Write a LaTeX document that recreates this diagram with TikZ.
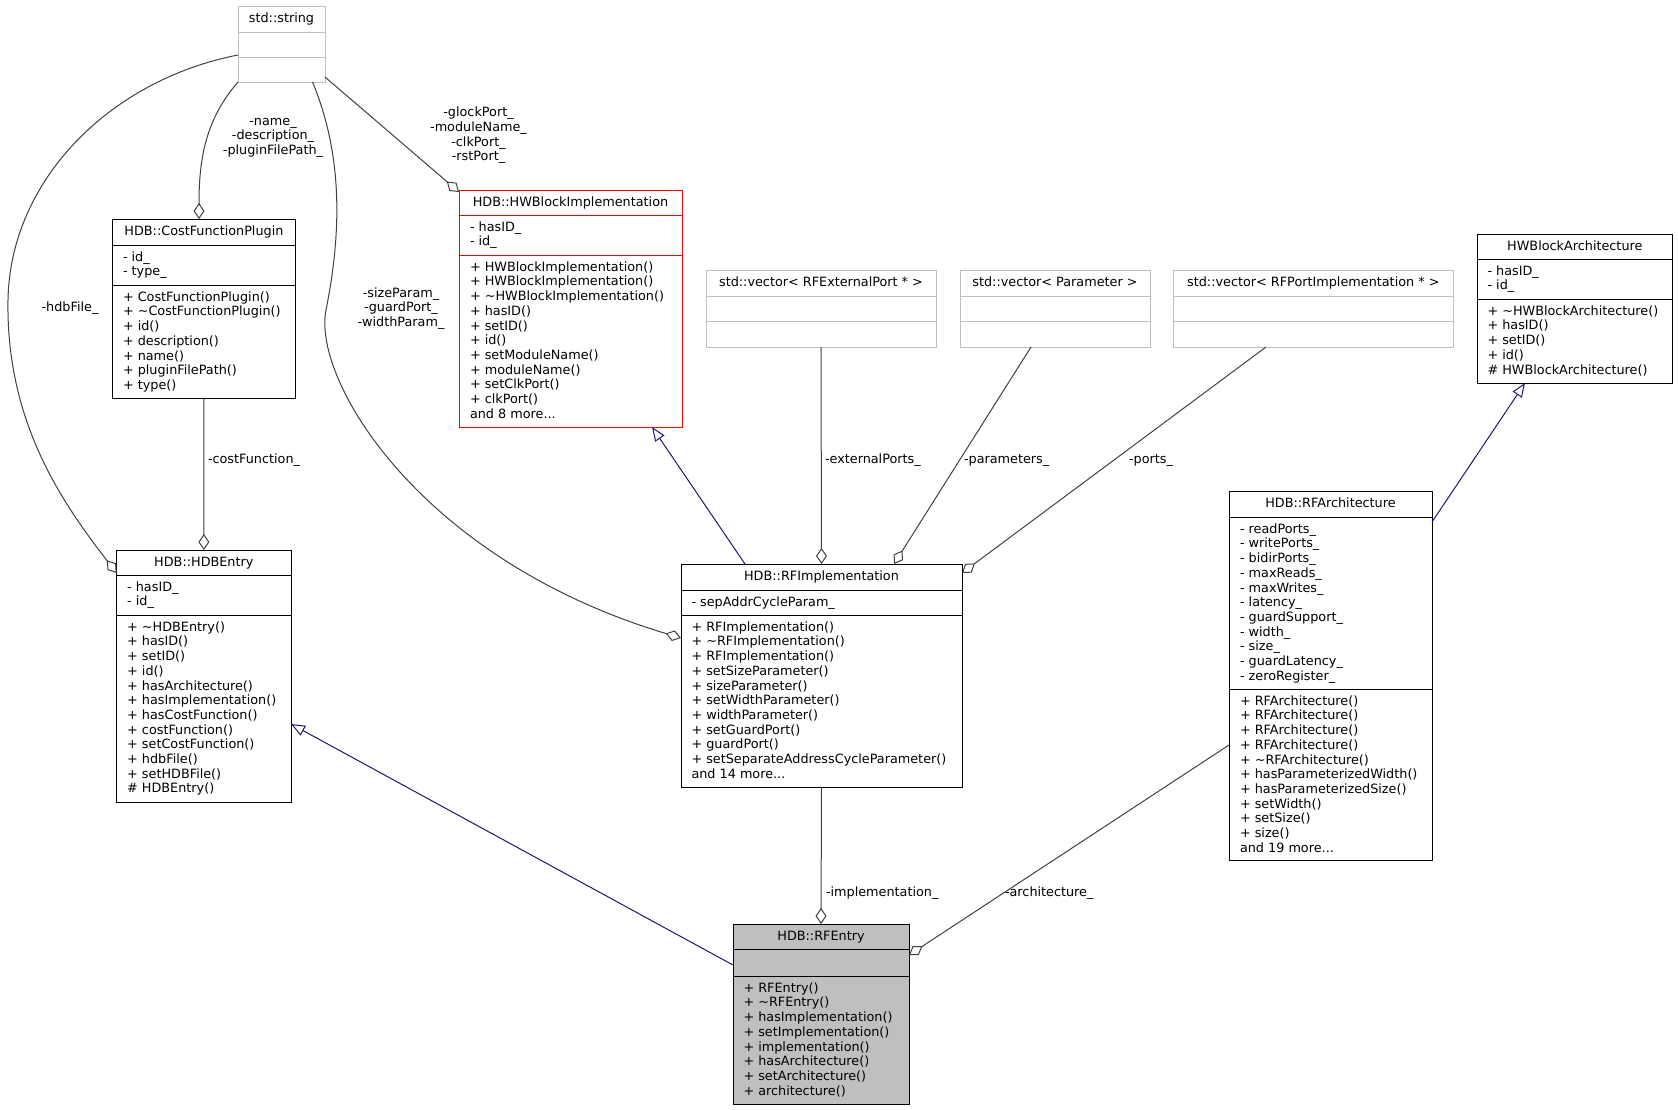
\documentclass[tikz,border=0pt]{standalone}
\usepackage{fontspec}
\setmainfont{DejaVu Sans}
\usetikzlibrary{arrows.meta,calc}
\definecolor{aggcol}{HTML}{404040}
\definecolor{inhcol}{HTML}{191970}
\definecolor{graybd}{HTML}{BFBFBF}
\definecolor{redbd}{HTML}{FF0000}
\definecolor{selfill}{HTML}{BFBFBF}
\newcommand\mydots{...}
\tikzset{
  txt/.style={inner sep=0pt, outer sep=0pt, font=\fontsize{12.8pt}{14.7pt}\selectfont},
  plainbox/.style={draw=black, line width=1pt, inner sep=0pt, outer sep=0pt},
  graybox/.style={draw=graybd, line width=1pt, inner sep=0pt, outer sep=0pt},
  redbox/.style={draw=redbd, line width=1pt, inner sep=0pt, outer sep=0pt},
  selbox/.style={draw=black, fill=selfill, line width=1pt, inner sep=0pt, outer sep=0pt},
  agg/.style={draw=aggcol, line width=1pt, -{Diamond[open, length=16pt, width=11pt]}},
  inh/.style={draw=inhcol, line width=1pt, -{Triangle[open, length=14pt, width=11pt]}}
}
% #1 name #2 xl #3 xr #4 y0 #5 y1 #6 y2 #7 y3 #8 style
\newcommand\umlclass[8]{%
  \node[#8, anchor=north west, minimum width={#3-#2}, minimum height={#7-#4}] (#1) at (#2,#4) {};
  \draw[#8, fill=none] (#2,#5) -- (#3,#5) (#2,#6) -- (#3,#6);
}
% #1 name #2 xl #3 xr #4 y0 #5 title
\newcommand\umltitle[5]{%
  \node[txt, anchor=base] (#1-t) at ({(#2+#3)/2},{#4+16.2}) {#5};
}
% left aligned lines: #1 prefix #2 x #3 first baseline #4 list
\newcommand\mlines[4]{%
  \foreach \mtext [count=\mi] in {#4} {\node[txt, anchor=base west] (#1-\mi) at (#2,{#3+(\mi-1)*14.7}) {\mtext};}
}
% centered lines
\newcommand\clines[4]{%
  \foreach \mtext [count=\mi] in {#4} {\node[txt, anchor=base] (#1-\mi) at (#2,{#3+(\mi-1)*14.7}) {\mtext};}
}
\begin{document}
\begin{tikzpicture}[x=1pt,y=-1pt]
\useasboundingbox (0,0) rectangle (1678,1109);

% std::string
\umlclass{str}{238}{325}{6}{32}{57}{82}{graybox}
\umltitle{str}{238}{325}{6}{std::string}

% CostFunctionPlugin
\umlclass{cfp}{112.5}{295.4}{219}{245}{285}{398.5}{plainbox}
\umltitle{cfp}{112.5}{295.4}{219}{HDB::CostFunctionPlugin}
\mlines{cfpa}{123}{261.2}{- id\_, - type\_}
\mlines{cfpm}{123}{301.2}{+ CostFunctionPlugin(), + \textasciitilde CostFunctionPlugin(), + id(), + description(), + name(), + pluginFilePath(), + type()}

% HWBlockImplementation
\umlclass{hwbi}{459}{682}{190}{215}{255}{427}{redbox}
\umltitle{hwbi}{459}{682}{190}{HDB::HWBlockImplementation}
\mlines{hwbia}{470}{231.2}{- hasID\_, - id\_}
\mlines{hwbim}{470}{271.2}{+ HWBlockImplementation(), + HWBlockImplementation(), + \textasciitilde HWBlockImplementation(), + hasID(), + setID(), + id(), + setModuleName(), + moduleName(), + setClkPort(), + clkPort(), and 8 more\mydots}

% vectors
\umlclass{rfext}{706}{936}{270}{296}{321}{347}{graybox}
\umltitle{rfext}{706}{936}{270}{std::vector< RFExternalPort * >}
\umlclass{vecparam}{960}{1150}{270}{296}{321}{347}{graybox}
\umltitle{vecparam}{960}{1150}{270}{std::vector< Parameter >}
\umlclass{vecport}{1173.6}{1453}{270}{296}{321}{347}{graybox}
\umltitle{vecport}{1173.6}{1453}{270}{std::vector< RFPortImplementation * >}

% HWBlockArchitecture
\umlclass{hwarch}{1477}{1672.6}{234}{259}{299}{383}{plainbox}
\umltitle{hwarch}{1477}{1672.6}{234}{HWBlockArchitecture}
\mlines{hwarcha}{1487.5}{275.2}{- hasID\_, - id\_}
\mlines{hwarchm}{1487.5}{315.2}{+ \textasciitilde HWBlockArchitecture(), + hasID(), + setID(), + id(), \# HWBlockArchitecture()}

% HDBEntry
\umlclass{hdb}{116.7}{291}{550}{575}{615}{802}{plainbox}
\umltitle{hdb}{116.7}{291}{550}{HDB::HDBEntry}
\mlines{hdba}{127.2}{591.2}{- hasID\_, - id\_}
\mlines{hdbm}{127.2}{631.2}{+ \textasciitilde HDBEntry(), + hasID(), + setID(), + id(), + hasArchitecture(), + hasImplementation(), + hasCostFunction(), + costFunction(), + setCostFunction(), + hdbFile(), + setHDBFile(), \# HDBEntry()}

% RFImplementation
\umlclass{rfimpl}{681}{962}{564}{590}{615}{787}{plainbox}
\umltitle{rfimpl}{681}{962}{564}{HDB::RFImplementation}
\mlines{rfimpla}{691.5}{606.2}{- sepAddrCycleParam\_}
\mlines{rfimplm}{691.5}{631.2}{+ RFImplementation(), + \textasciitilde RFImplementation(), + RFImplementation(), + setSizeParameter(), + sizeParameter(), + setWidthParameter(), + widthParameter(), + setGuardPort(), + guardPort(), + setSeparateAddressCycleParameter(), and 14 more\mydots}

% RFArchitecture
\umlclass{rfarch}{1229}{1432}{491}{517}{689}{860}{plainbox}
\umltitle{rfarch}{1229}{1432}{491}{HDB::RFArchitecture}
\mlines{rfarcha}{1240}{533.2}{- readPorts\_, - writePorts\_, - bidirPorts\_, - maxReads\_, - maxWrites\_, - latency\_, - guardSupport\_, - width\_, - size\_, - guardLatency\_, - zeroRegister\_}
\mlines{rfarchm}{1240}{705.2}{+ RFArchitecture(), + RFArchitecture(), + RFArchitecture(), + RFArchitecture(), + \textasciitilde RFArchitecture(), + hasParameterizedWidth(), + hasParameterizedSize(), + setWidth(), + setSize(), + size(), and 19 more\mydots}

% RFEntry
\umlclass{rfentry}{733}{909}{924}{949}{976}{1104}{selbox}
\umltitle{rfentry}{733}{909}{924}{HDB::RFEntry}
\mlines{rfentrym}{743.5}{992.2}{+ RFEntry(), + \textasciitilde RFEntry(), + hasImplementation(), + setImplementation(), + implementation(), + hasArchitecture(), + setArchitecture(), + architecture()}

% connectors
\draw[agg] (str.south west) .. controls (205,120) and (199,160) .. ($(cfp.north west)+(86.5,0)$);
\draw[agg] ($(str.north west)+(0,49)$) .. controls (110,80) and (10,180) .. (8,300) .. controls (6,420) and (60,500) .. ($(hdb.north west)+(0,23)$);
\draw[agg] ($(str.south west)+(74.5,0)$) .. controls (345,160) and (340,240) .. (326,310) .. controls (312,380) and (420,560) .. ($(rfimpl.north west)+(0,74)$);
\draw[agg] ($(str.north east)+(0,71)$) -- ($(hwbi.north west)+(0,2)$);
\draw[agg] (cfp.south) -- (hdb.north);
\draw[agg] (rfext.south) -- (rfimpl.north);
\draw[agg] ($(vecparam.south west)+(71,0)$) -- ($(rfimpl.north west)+(213,0)$);
\draw[agg] ($(vecport.south west)+(92.4,0)$) -- ($(rfimpl.north east)+(0,9)$);
\draw[inh] ($(rfimpl.north west)+(64,0)$) -- ($(hwbi.south west)+(193,0)$);
\draw[inh] ($(rfarch.north east)+(0,31)$) -- ($(hwarch.south west)+(48,0)$);
\draw[inh] ($(rfentry.north west)+(0,41)$) -- ($(hdb.south east)+(0,-78)$);
\draw[agg] (rfimpl.south) -- (rfentry.north);
\draw[agg] ($(rfarch.north west)+(0,254)$) -- ($(rfentry.north east)+(0,31)$);

% connector labels
\clines{lname}{273}{125.2}{-name\_, -description\_, -pluginFilePath\_}
\clines{lglock}{478.5}{116.8}{-glockPort\_, -moduleName\_, -clkPort\_, -rstPort\_}
\clines{lsize}{401}{297.2}{-sizeParam\_, -guardPort\_, -widthParam\_}
\clines{lhdbf}{70}{311.8}{-hdbFile\_}
\mlines{lcost}{208}{463.5}{-costFunction\_}
\mlines{lext}{825}{463.5}{-externalPorts\_}
\mlines{lpar}{964}{463.5}{-parameters\_}
\mlines{lports}{1129}{463.5}{-ports\_}
\mlines{limpl}{826}{896.5}{-implementation\_}
\mlines{larch}{1005}{896}{-architecture\_}
\end{tikzpicture}
\end{document}
